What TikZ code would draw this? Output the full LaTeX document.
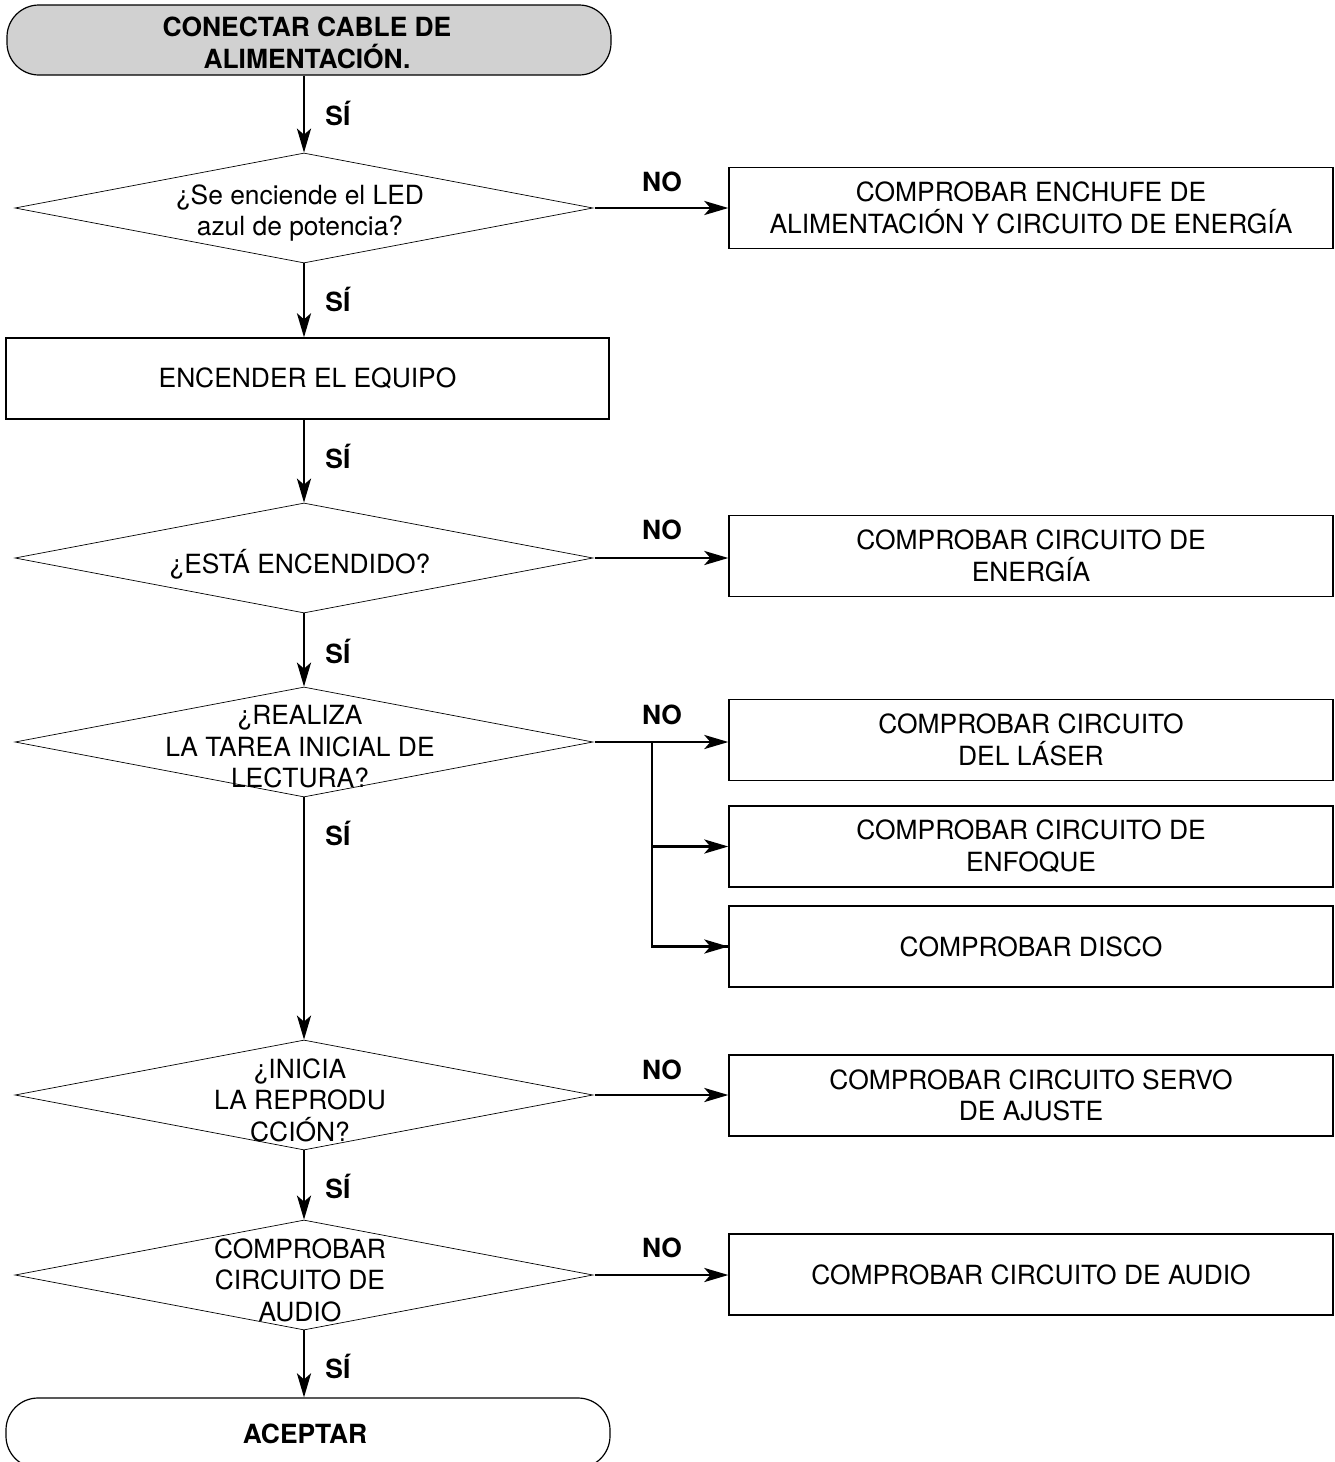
\documentclass[tikz,border=0pt]{standalone}
\usepackage{fontspec}
\setmainfont{TeX Gyre Heros}
\usetikzlibrary{shapes.geometric,arrows.meta}
\tikzset{
  txt/.style={font=\fontsize{13.2}{15.8}\selectfont, align=center, inner sep=0pt},
  lbl/.style={font=\fontsize{13.2}{15.8}\selectfont\bfseries, inner sep=0pt},
  termbox/.style={draw, line width=0.6pt, rectangle, rounded corners=16pt, minimum width=302pt, minimum height=35pt, inner sep=0pt},
  chkbox/.style={draw, line width=0.65pt, rectangle, minimum width=302pt, minimum height=40.5pt, inner sep=0pt, align=center, font=\fontsize{13.2}{15.8}\selectfont},
  decision/.style={draw, line width=0.35pt, diamond, minimum width=289pt, minimum height=55pt, inner sep=0pt},
  arr/.style={line width=1.45pt, -{Stealth[length=12pt,width=7pt,inset=3pt]}},
  plain/.style={line width=1.45pt},
}
\begin{document}
\begin{tikzpicture}[x=0.5pt,y=-0.5pt]
\useasboundingbox (0,0) rectangle (1334,1462);

% terminals
\node[termbox, fill=black!18] (start) at (309,40) {};
\node[lbl, align=center] (starttxt) at (307,43) {CONECTAR CABLE DE\\ALIMENTACIÓN.};
\node[termbox] (stop) at (308,1433) {};
\node[lbl] (stoptxt) at (305,1434) {ACEPTAR};

% decisions
\node[decision] (d1) at (304,208) {};
\node[txt] (d1t) at (300,213) {¿Se enciende el LED\\azul de potencia?};
\node[decision] (d2) at (304,558) {};
\node[txt] (d2t) at (300,564) {¿ESTÁ ENCENDIDO?};
\node[decision] (d3) at (304,742) {};
\node[txt] (d3t) at (300,747) {¿REALIZA\\LA TAREA INICIAL DE\\LECTURA?};
\node[decision] (d4) at (304,1095) {};
\node[txt] (d4t) at (300,1100) {¿INICIA\\LA REPRODU\\CCIÓN?};
\node[decision] (d5) at (304,1275) {};
\node[txt] (d5t) at (300,1280) {COMPROBAR\\CIRCUITO DE\\AUDIO};

% process box
\node[chkbox, minimum width=301.5pt] (on) at (307.5,378.5) {ENCENDER EL EQUIPO};

% check boxes
\node[chkbox] (b1) at (1031,208) {COMPROBAR ENCHUFE DE\\ALIMENTACIÓN Y CIRCUITO DE ENERGÍA};
\node[chkbox] (b2) at (1031,556) {COMPROBAR CIRCUITO DE\\ENERGÍA};
\node[chkbox] (b3) at (1031,740) {COMPROBAR CIRCUITO\\DEL LÁSER};
\node[chkbox] (b4) at (1031,846.5) {COMPROBAR CIRCUITO DE\\ENFOQUE};
\node[chkbox] (b5) at (1031,946.5) {COMPROBAR DISCO};
\node[chkbox] (b6) at (1031,1095.5) {COMPROBAR CIRCUITO SERVO\\DE AJUSTE};
\node[chkbox] (b7) at (1031,1274.5) {COMPROBAR CIRCUITO DE AUDIO};

% vertical SÍ arrows
\draw[arr] (start.south -| d1.north) -- (d1.north);
\draw[arr] (d1.south) -- (d1.south |- on.north);
\draw[arr] (d1.south |- on.south) -- (d2.north);
\draw[arr] (d2.south) -- (d3.north);
\draw[arr] (d3.south) -- (d4.north);
\draw[arr] (d4.south) -- (d5.north);
\draw[arr] (d5.south) -- (d5.south |- stop.north);

\node[lbl, anchor=west] (s1) at (325,113) {SÍ};
\node[lbl, anchor=west] (s2) at (325,299) {SÍ};
\node[lbl, anchor=west] (s3) at (325,456) {SÍ};
\node[lbl, anchor=west] (s4) at (325,651) {SÍ};
\node[lbl, anchor=west] (s5) at (325,833) {SÍ};
\node[lbl, anchor=west] (s6) at (325,1186) {SÍ};
\node[lbl, anchor=west] (s7) at (325,1366) {SÍ};

% NO arrows
\draw[arr] ([xshift=1pt]d1.east) -- (d1.east -| b1.west);
\draw[arr] ([xshift=1pt]d2.east) -- (d2.east -| b2.west);
\draw[arr] ([xshift=1pt]d3.east) -- (d3.east -| b3.west);
\coordinate (br) at (652,742);
\draw[plain] (br) |- (b5.west);
\draw[arr] (b5.west -| br) -- (b5.west);
\draw[arr] (b4.west -| br) -- (b4.west);
\draw[arr] ([xshift=1pt]d4.east) -- (d4.east -| b6.west);
\draw[arr] ([xshift=1pt]d5.east) -- (d5.east -| b7.west);

\node[lbl] (n1) at (662,182) {NO};
\node[lbl] (n2) at (662,530) {NO};
\node[lbl] (n3) at (662,715) {NO};
\node[lbl] (n4) at (662,1070) {NO};
\node[lbl] (n5) at (662,1248) {NO};
\end{tikzpicture}
\end{document}
